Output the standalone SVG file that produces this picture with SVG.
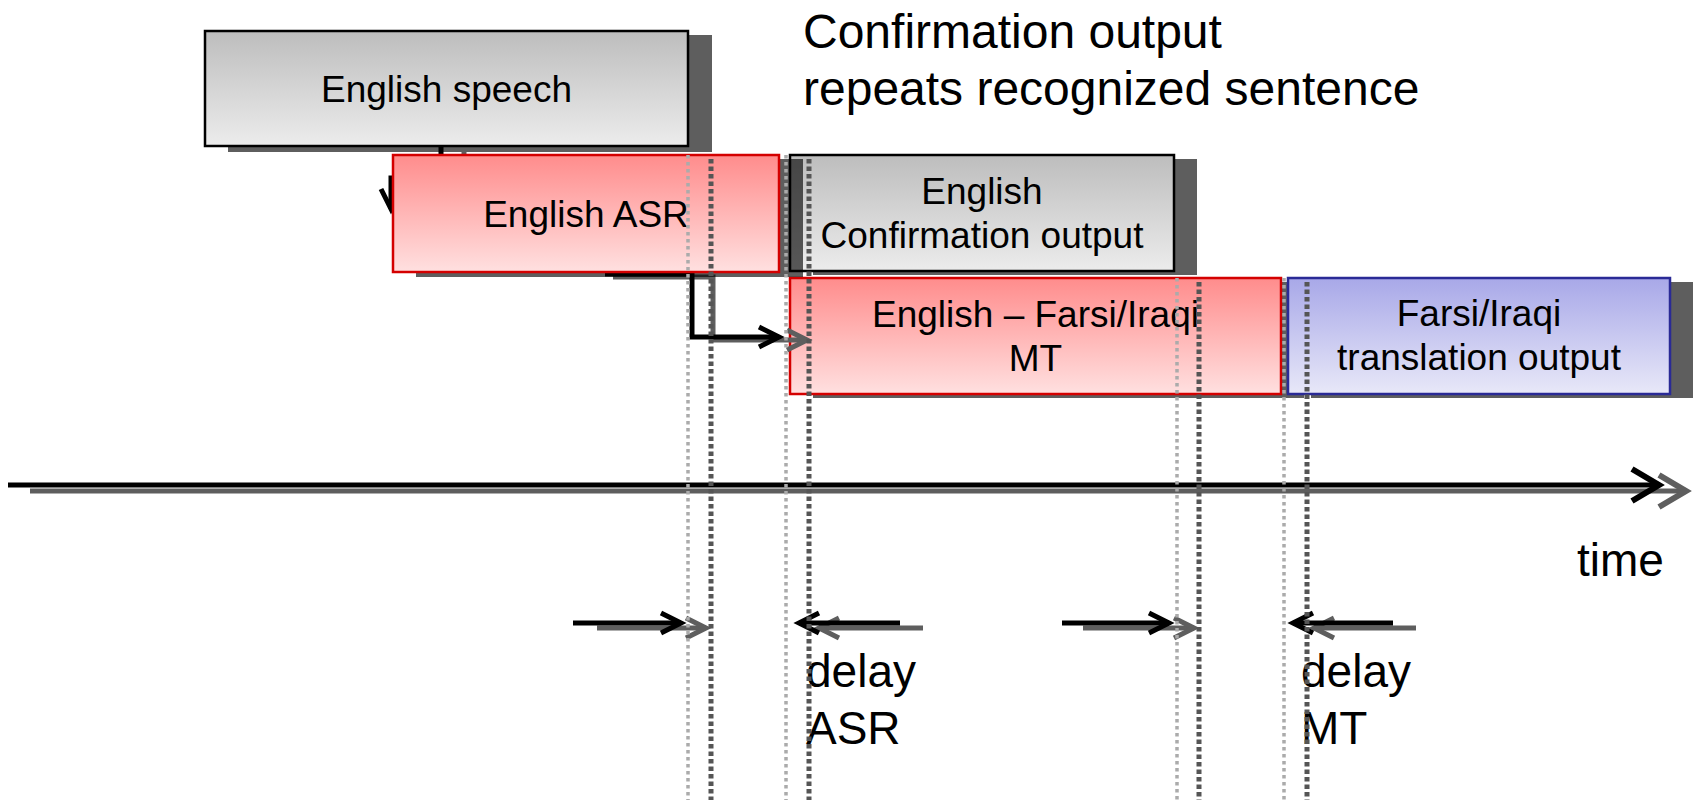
<svg xmlns="http://www.w3.org/2000/svg" width="1700" height="800" viewBox="0 0 1700 800">
  <defs>
    <linearGradient id="gGray" x1="0" y1="0" x2="0" y2="1">
      <stop offset="0" stop-color="#bdbdbd"/>
      <stop offset="1" stop-color="#ececec"/>
    </linearGradient>
    <linearGradient id="gRed" x1="0" y1="0" x2="0" y2="1">
      <stop offset="0" stop-color="#ff8c8c"/>
      <stop offset="1" stop-color="#ffe0e0"/>
    </linearGradient>
    <linearGradient id="gBlue" x1="0" y1="0" x2="0" y2="1">
      <stop offset="0" stop-color="#a8a8e8"/>
      <stop offset="1" stop-color="#e8e8f8"/>
    </linearGradient>
    <!-- open chevron heads, black and grey copies -->
    <marker id="headK" markerUnits="userSpaceOnUse" orient="auto" refX="0" refY="0" markerWidth="40" markerHeight="40" viewBox="-30 -20 40 40" overflow="visible">
      <path d="M -20 -10 L 0 0 L -20 10" fill="none" stroke="#000" stroke-width="5"/>
    </marker>
    <marker id="headG" markerUnits="userSpaceOnUse" orient="auto" refX="0" refY="0" markerWidth="40" markerHeight="40" viewBox="-30 -20 40 40" overflow="visible">
      <path d="M -20 -10 L 0 0 L -20 10" fill="none" stroke="#5e5e5e" stroke-width="5"/>
    </marker>
    <marker id="bigK" markerUnits="userSpaceOnUse" orient="auto" refX="0" refY="0" markerWidth="60" markerHeight="60" viewBox="-40 -30 60 60" overflow="visible">
      <path d="M -27 -16 L 0 0 L -27 16" fill="none" stroke="#000" stroke-width="6"/>
    </marker>
    <marker id="bigG" markerUnits="userSpaceOnUse" orient="auto" refX="0" refY="0" markerWidth="60" markerHeight="60" viewBox="-40 -30 60 60" overflow="visible">
      <path d="M -27 -16 L 0 0 L -27 16" fill="none" stroke="#5e5e5e" stroke-width="6"/>
    </marker>
  </defs>
  <style>
    text { font-family: "Liberation Sans", Arial, sans-serif; fill: #000; }
    .lbl { font-size: 37px; text-anchor: middle; }
    .big { font-size: 48px; }
    .note { font-size: 46px; }
    .shadow { fill: #000; fill-opacity: 0.63; }
    .gray { fill: url(#gGray); stroke: #000; stroke-width: 2.5; }
    .red { fill: url(#gRed); stroke: #d40000; stroke-width: 2.5; }
    .blue { fill: url(#gBlue); stroke: #2a2a96; stroke-width: 2.5; }
    .lk { fill: none; stroke: #000; stroke-width: 5; }
    .lg { fill: none; stroke: #5e5e5e; stroke-width: 5; }
    .dotL { stroke: #ababab; stroke-width: 3.5; stroke-dasharray: 3.5 3.5; }
    .dotD { stroke: #555; stroke-width: 5; stroke-dasharray: 4.5 3; }
  </style>

  <rect width="1700" height="800" fill="#fff"/>

  <g id="title">
    <text class="big" x="803" y="48">Confirmation output</text>
    <text class="big" x="803" y="105">repeats recognized sentence</text>
  </g>

  <g id="speech">
    <rect class="shadow" x="228" y="35" width="484" height="117"/>
    <rect class="gray" x="205" y="31" width="483" height="115"/>
    <text class="lbl" x="446.5" y="102">English speech</text>
  </g>

  <g id="confirm">
    <rect class="shadow" x="813" y="159" width="384" height="116"/>
    <rect class="gray" x="790" y="155" width="384" height="116"/>
    <text class="lbl" x="982" y="204">English</text>
    <text class="lbl" x="982" y="248">Confirmation output</text>
  </g>

  <g id="mt">
    <rect class="shadow" x="813" y="282" width="491" height="116"/>
    <rect class="red" x="790" y="278" width="491" height="116"/>
    <text class="lbl" x="1035.5" y="327">English – Farsi/Iraqi</text>
    <text class="lbl" x="1035.5" y="371">MT</text>
  </g>

  <g id="translation">
    <rect class="shadow" x="1311" y="282" width="382" height="116"/>
    <rect class="blue" x="1288" y="278" width="382" height="116"/>
    <text class="lbl" x="1479" y="326">Farsi/Iraqi</text>
    <text class="lbl" x="1479" y="370">translation output</text>
  </g>

  <g id="connectors">
    <!-- speech to ASR -->
    <path class="lg" d="M 464 151 V 183 H 414 V 212" marker-end="url(#headG)"/>
    <path class="lk" d="M 441 146 V 178 H 391 V 209" marker-end="url(#headK)"/>
    <!-- ASR to MT -->
    <path class="lg" d="M 613 277 H 713 V 340 H 807" marker-end="url(#headG)"/>
    <path class="lk" d="M 605 274 H 692 V 337 H 779" marker-end="url(#headK)"/>
  </g>

  <g id="asr">
    <rect class="shadow" x="416" y="159" width="387" height="118"/>
    <rect class="red" x="393" y="155" width="386" height="117"/>
    <text class="lbl" x="586" y="227">English ASR</text>
  </g>

  <g id="time-axis">
    <line class="lg" x1="30" y1="491" x2="1686" y2="491" stroke-width="8" marker-end="url(#bigG)"/>
    <line class="lk" x1="8" y1="485" x2="1659" y2="485" stroke-width="8" marker-end="url(#bigK)"/>
    <text class="note" x="1577" y="576">time</text>
  </g>

  <g id="delays">
    <line class="lg" x1="597" y1="628" x2="706" y2="628" marker-end="url(#headG)"/>
    <line class="lk" x1="573" y1="623" x2="681" y2="623" marker-end="url(#headK)"/>
    <line class="lg" x1="923" y1="628" x2="819" y2="628" marker-end="url(#headG)"/>
    <line class="lk" x1="900" y1="623" x2="799" y2="623" marker-end="url(#headK)"/>
    <line class="lg" x1="1083" y1="628" x2="1194" y2="628" marker-end="url(#headG)"/>
    <line class="lk" x1="1062" y1="623" x2="1169" y2="623" marker-end="url(#headK)"/>
    <line class="lg" x1="1416" y1="628" x2="1314" y2="628" marker-end="url(#headG)"/>
    <line class="lk" x1="1393" y1="623" x2="1293" y2="623" marker-end="url(#headK)"/>
    <text class="note" x="806" y="687">delay</text>
    <text class="note" x="806" y="744">ASR</text>
    <text class="note" x="1301" y="687">delay</text>
    <text class="note" x="1301" y="744">MT</text>
  </g>

  <g id="guides">
    <line class="dotL" x1="688" y1="155" x2="688" y2="800"/>
    <line class="dotD" x1="711" y1="159" x2="711" y2="800"/>
    <line class="dotL" x1="786" y1="155" x2="786" y2="800"/>
    <line class="dotD" x1="809" y1="159" x2="809" y2="800"/>
    <line class="dotL" x1="1177" y1="278" x2="1177" y2="800"/>
    <line class="dotD" x1="1199" y1="282" x2="1199" y2="800"/>
    <line class="dotL" x1="1284" y1="278" x2="1284" y2="800"/>
    <line class="dotD" x1="1307" y1="282" x2="1307" y2="800"/>
  </g>
</svg>
